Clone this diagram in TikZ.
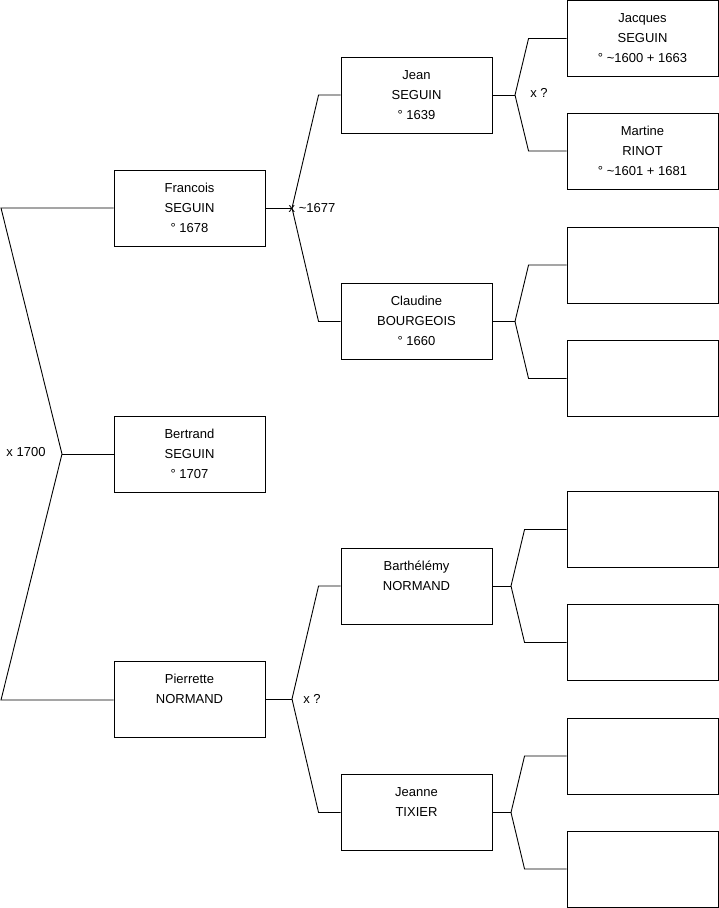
\documentclass[tikz,border=0pt]{standalone}
\usepackage{fontspec}
\setmainfont{Liberation Sans}
\newcommand{\ptxt}[1]{\raisebox{2pt}{\begin{tabular}{@{}c@{}}#1\end{tabular}}}
\begin{document}
\begin{tikzpicture}[x=1pt,y=-1pt,
  person/.style={draw=black,line width=0.9pt,minimum width=151pt,minimum height=76pt,inner sep=0pt,align=center,font=\fontsize{13}{20}\selectfont},
  link/.style={draw=black,line width=0.9pt},
  lbl/.style={inner sep=0pt,font=\fontsize{13}{15}\selectfont}]
\useasboundingbox (0,0) rectangle (719,908);
% generation 1
\node[person] (fran) at (189.5,208) {\ptxt{Francois\\SEGUIN\\° 1678}};
\node[person] (bert) at (189.5,454) {\ptxt{Bertrand\\SEGUIN\\° 1707}};
\node[person] (pier) at (189.5,699) {\ptxt{Pierrette\\NORMAND\\\mbox{}}};
% generation 2
\node[person] (jean) at (416.5,95) {\ptxt{Jean\\SEGUIN\\° 1639}};
\node[person] (clau) at (416.5,321.5) {\ptxt{Claudine\\BOURGEOIS\\° 1660}};
\node[person] (bart) at (416.5,586) {\ptxt{Barthélémy\\NORMAND\\\mbox{}}};
\node[person] (jeanne) at (416.5,812.5) {\ptxt{Jeanne\\TIXIER\\\mbox{}}};
% generation 3
\node[person] (jacq) at (642.5,38.5) {\ptxt{Jacques\\SEGUIN\\° \char`~1600 + 1663}};
\node[person] (mart) at (642.5,151) {\ptxt{Martine\\RINOT\\° \char`~1601 + 1681}};
\node[person] (e1) at (642.5,265) {};
\node[person] (e2) at (642.5,378.5) {};
\node[person] (e3) at (642.5,529.5) {};
\node[person] (e4) at (642.5,642.5) {};
\node[person] (e5) at (642.5,756) {};
\node[person] (e6) at (642.5,869) {};
% root connectors
\coordinate (root) at (62,454);
\coordinate (L1) at (1,208);
\coordinate (L2) at (1,700);
\draw[link] (fran.west) -- (L1) -- (root) -- (L2) -- (pier.west |- L2);
\draw[link] (root) -- (bert.west);
\node[lbl] (m0) at (26,452) {x 1700};
% Francois
\coordinate (fk1) at (292,208);
\draw[link] (fran.east) -- (fk1);
\draw[link] (jean.west) -- ([xshift=-22pt]jean.west) -- (fk1) -- ([xshift=-22pt]clau.west) -- (clau.west);
\node[lbl] (m1) at (312,208) {x \char`~1677};
% Pierrette
\coordinate (fk2) at (292,699);
\draw[link] (pier.east) -- (fk2);
\draw[link] (bart.west) -- ([xshift=-22pt]bart.west) -- (fk2) -- ([xshift=-22pt]jeanne.west) -- (jeanne.west);
\node[lbl] (m2) at (312,699) {x ?};
% Jean
\coordinate (fk3) at (515,95);
\draw[link] (jean.east) -- (fk3);
\draw[link] (jacq.west) -- ([xshift=-38pt]jacq.west) -- (fk3) -- ([xshift=-38pt]mart.west) -- (mart.west);
\node[lbl] (m3) at (539,93) {x ?};
% Claudine
\coordinate (fk4) at (515,321.5);
\draw[link] (clau.east) -- (fk4);
\draw[link] (e1.west) -- ([xshift=-38pt]e1.west) -- (fk4) -- ([xshift=-38pt]e2.west) -- (e2.west);
% Barthelemy
\coordinate (fk5) at (511,586);
\draw[link] (bart.east) -- (fk5);
\draw[link] (e3.west) -- ([xshift=-42pt]e3.west) -- (fk5) -- ([xshift=-42pt]e4.west) -- (e4.west);
% Jeanne
\coordinate (fk6) at (511,812.5);
\draw[link] (jeanne.east) -- (fk6);
\draw[link] (e5.west) -- ([xshift=-42pt]e5.west) -- (fk6) -- ([xshift=-42pt]e6.west) -- (e6.west);
\end{tikzpicture}
\end{document}
